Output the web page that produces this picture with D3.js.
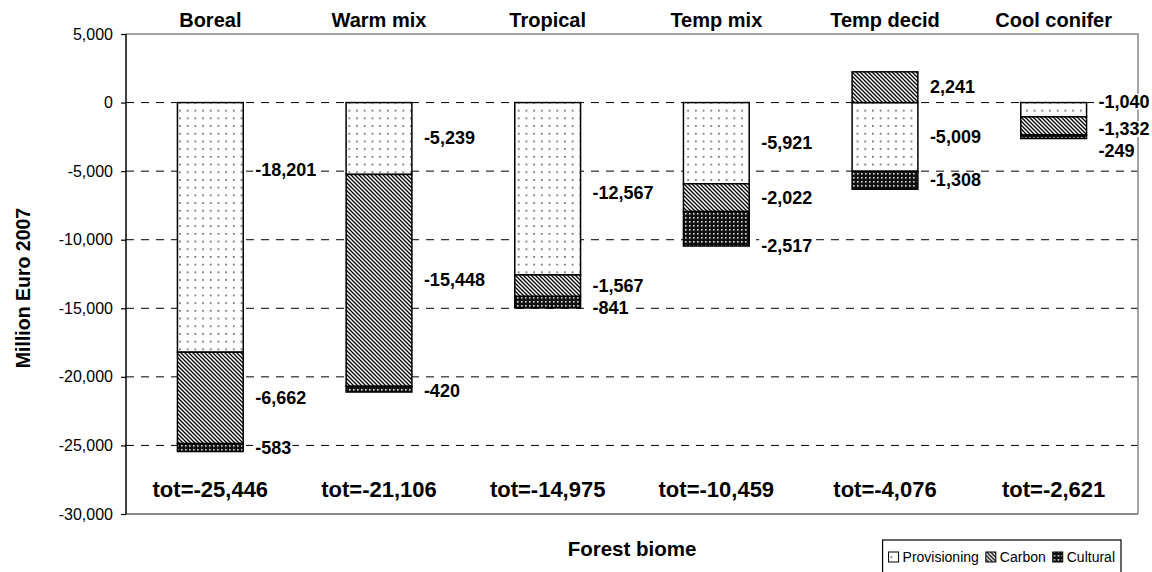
<!DOCTYPE html>
<html><head><meta charset="utf-8">
<script src="https://cdn.jsdelivr.net/npm/d3@7"></script>
<style>body{margin:0;background:#fff}svg{display:block;font-family:Arial,"Liberation Sans",sans-serif}</style>
</head><body><svg id="c" width="1152" height="572"></svg>
<script>
const categories = ["Boreal","Warm mix","Tropical","Temp mix","Temp decid","Cool conifer"];
const provisioning = [-18201,-5239,-12567,-5921,-5009,-1040];
const carbon = [-6662,-15448,-1567,-2022,2241,-1332];
const cultural = [-583,-420,-841,-2517,-1308,-249];
const totals = [-25446,-21106,-14975,-10459,-4076,-2621];
const yTicks = [5000,0,-5000,-10000,-15000,-20000,-25000,-30000];
const seriesNames = ["Provisioning","Carbon","Cultural"];

// manual label nudges (px) as in the original, keyed "series|category"
const nudge = {"Provisioning|Boreal":-57,"Provisioning|Tropical":4,"Cultural|Tropical":6,
  "Cultural|Temp mix":17,"Provisioning|Cool conifer":-8,"Carbon|Cool conifer":3,"Cultural|Cool conifer":14,"Cultural|Warm mix":2};

const loc = d3.formatLocale({decimal:".",thousands:",",grouping:[3],currency:["",""],minus:"-"});
const fmt = loc.format(",");

const svg = d3.select("#c");
const L=126,R=1138,T=34,B=514;
const x = d3.scaleBand().domain(categories).range([L,R]).paddingInner(0.61).paddingOuter(0.305);
const y = d3.scaleLinear().domain([-30000,5000]).range([B,T]);

const defs = svg.append("defs");
const p1 = defs.append("pattern").attr("id","pProv").attr("patternUnits","userSpaceOnUse").attr("width",7.7).attr("height",7.7);
p1.append("rect").attr("width",7.7).attr("height",7.7).attr("fill","#fff");
p1.append("rect").attr("x",2).attr("y",2).attr("width",1.6).attr("height",1.6).attr("fill","#555");
const p2 = defs.append("pattern").attr("id","pCarb").attr("patternUnits","userSpaceOnUse").attr("width",4).attr("height",4);
p2.append("rect").attr("width",4).attr("height",4).attr("fill","#fff");
p2.append("path").attr("d","M-1,-1L5,5M-1,3L1,5M3,-1L5,1").attr("stroke","#000").attr("stroke-width",1.3);
const p3 = defs.append("pattern").attr("id","pCult").attr("patternUnits","userSpaceOnUse").attr("width",4).attr("height",4);
p3.append("rect").attr("width",4).attr("height",4).attr("fill","#111");
p3.append("rect").attr("x",1).attr("y",1).attr("width",1.6).attr("height",1.6).attr("fill","#ddd");
const fills = {"Provisioning":"url(#pProv)","Carbon":"url(#pCarb)","Cultural":"url(#pCult)"};

// gridlines
svg.append("g").selectAll("line").data(yTicks.filter(v=>v<5000&&v>-30000)).join("line")
  .attr("x1",L).attr("x2",R).attr("y1",d=>y(d)).attr("y2",d=>y(d))
  .attr("stroke","#000").attr("stroke-width",1).attr("stroke-dasharray","8,7");

// plot border (gray)
svg.append("path").attr("d",`M${L},${T}H${R}V${B}`).attr("fill","none").attr("stroke","#888").attr("stroke-width",1.5);
svg.append("line").attr("x1",L).attr("x2",R).attr("y1",B).attr("y2",B).attr("stroke","#888").attr("stroke-width",2);

// stacked data
const table = categories.map((c,i)=>({cat:c,Provisioning:provisioning[i],Carbon:carbon[i],Cultural:cultural[i]}));
const stack = d3.stack().keys(seriesNames).offset(d3.stackOffsetDiverging)(table);

const gBars = svg.append("g");
stack.forEach(s=>{
  gBars.append("g").selectAll("rect").data(s).join("rect")
    .attr("x",d=>x(d.data.cat)).attr("width",x.bandwidth())
    .attr("y",d=>y(Math.max(d[0],d[1]))).attr("height",d=>Math.abs(y(d[0])-y(d[1])))
    .attr("fill",fills[s.key]).attr("stroke","#000").attr("stroke-width",1.5);
});

// value labels (with white background, as in the original)
const gLab = svg.append("g").attr("font-weight","bold").attr("font-size",18);
stack.forEach(s=>{
  s.forEach(d=>{
    const g = gLab.append("g");
    const bg = g.append("rect").attr("fill","#fff");
    const t = g.append("text")
      .attr("x",x(d.data.cat)+x.bandwidth()+12)
      .attr("y",(y(d[0])+y(d[1]))/2+6+(nudge[s.key+"|"+d.data.cat]||0))
      .text(fmt(d.data[s.key]));
    const bb = t.node().getBBox();
    bg.attr("x",bb.x-2).attr("y",bb.y+2).attr("width",bb.width+3).attr("height",bb.height-4);
  });
});

// totals
svg.append("g").selectAll("text").data(categories).join("text")
  .attr("x",d=>x(d)+x.bandwidth()/2).attr("y",B-17).attr("text-anchor","middle")
  .attr("font-weight","bold").attr("font-size",22).text((d,i)=>"tot="+fmt(totals[i]));

// category headers
svg.append("g").selectAll("text").data(categories).join("text")
  .attr("x",d=>x(d)+x.bandwidth()/2).attr("y",27).attr("text-anchor","middle")
  .attr("font-weight","bold").attr("font-size",20).text(d=>d);

// y axis
const yAxis = d3.axisLeft(y).tickValues(yTicks).tickFormat(fmt).tickSize(5).tickPadding(8);
const ga = svg.append("g").attr("transform",`translate(${L},0)`).call(yAxis);
ga.select(".domain").attr("stroke","#000").attr("stroke-width",1.5).attr("d",`M0,${T}V${B}`);
ga.selectAll(".tick line").attr("stroke","#000").attr("stroke-width",1.2);
ga.selectAll(".tick text").attr("font-size",16).attr("fill","#000").attr("font-family","Arial,'Liberation Sans',sans-serif");

// axis titles
svg.append("text").attr("transform",`translate(30,${(T+B)/2+14}) rotate(-90)`).attr("text-anchor","middle")
  .attr("font-weight","bold").attr("font-size",19.5).text("Million Euro 2007");
svg.append("text").attr("x",(L+R)/2).attr("y",556).attr("text-anchor","middle")
  .attr("font-weight","bold").attr("font-size",20.5).text("Forest biome");

// legend
const lg = svg.append("g");
const lbox = lg.append("rect").attr("fill","#fff").attr("stroke","#000").attr("stroke-width",1.2);
let cx = 0;
seriesNames.forEach((n,i)=>{
  const g = lg.append("g");
  g.append("rect").attr("x",cx).attr("y",-10).attr("width",10).attr("height",10).attr("fill",fills[n]).attr("stroke","#000").attr("stroke-width",1);
  const t = g.append("text").attr("x",cx+14).attr("y",0).attr("font-size",14).text(n);
  cx += 14 + t.node().getComputedTextLength() + 7;
});
const lw = cx - 7 + 12;
const lx = 1121 - lw;
lg.attr("transform",`translate(${lx+6},562)`);
lbox.attr("x",-6).attr("y",-22).attr("width",lw).attr("height",40);
</script></body></html>
